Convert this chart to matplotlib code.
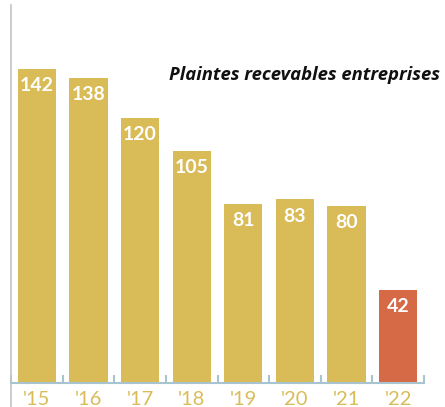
import matplotlib.pyplot as plt

years = ["'15", "'16", "'17", "'18", "'19", "'20", "'21", "'22"]
values = [142, 138, 120, 105, 81, 83, 80, 42]
colors = ["#D9BC58"] * 7 + ["#D66A47"]

GOLD = "#D9BC58"
AXIS_BLUE = "#A8C4D0"


def main():
    fig = plt.figure(figsize=(4.45, 4.07), dpi=100)
    ax = fig.add_axes([11 / 445, 0.0, (424 - 11) / 445, 402 / 407])

    x = list(range(len(years)))
    bars = ax.bar(x, values, width=0.74, color=colors, zorder=2)

    for b, v in zip(bars, values):
        ax.annotate(str(v), (b.get_x() + b.get_width() / 2, v),
                    xytext=(0, -12), textcoords="offset points",
                    ha="center", va="center", color="white",
                    fontsize=14, fontweight="bold", family="Lato")

    ax.set_xlim(-0.5, len(years) - 0.5)
    ax.set_ylim(-10.9, 171)

    # spines
    for s in ["top", "right"]:
        ax.spines[s].set_visible(False)
    ax.spines["left"].set_color("#C4C4C4")
    ax.spines["left"].set_linewidth(1.2)
    ax.spines["bottom"].set_position(("data", 0))
    ax.spines["bottom"].set_color(AXIS_BLUE)
    ax.spines["bottom"].set_linewidth(1.5)
    ax.set_yticks([])

    ax.set_xticks(x)
    ax.set_xticklabels(years)
    ax.set_xticks([i - 0.5 for i in range(len(years) + 1)], minor=True)
    ax.tick_params(axis="x", which="major", length=0, pad=6,
                   labelcolor=GOLD, labelsize=14.5)
    ax.tick_params(axis="x", which="minor", direction="in", length=6,
                   width=1.5, color=AXIS_BLUE)
    for lbl in ax.get_xticklabels():
        lbl.set_family("Lato")

    ax.text(1.039, 0.825, "Plaintes recevables entreprises",
            transform=ax.transAxes, ha="right", va="center",
            fontsize=13.3, fontweight="bold", fontstyle="italic",
            family="Open Sans", color="#111111", clip_on=False)

    fig.savefig("out.png", dpi=100)
    plt.close(fig)


if __name__ == "__main__":
    main()
